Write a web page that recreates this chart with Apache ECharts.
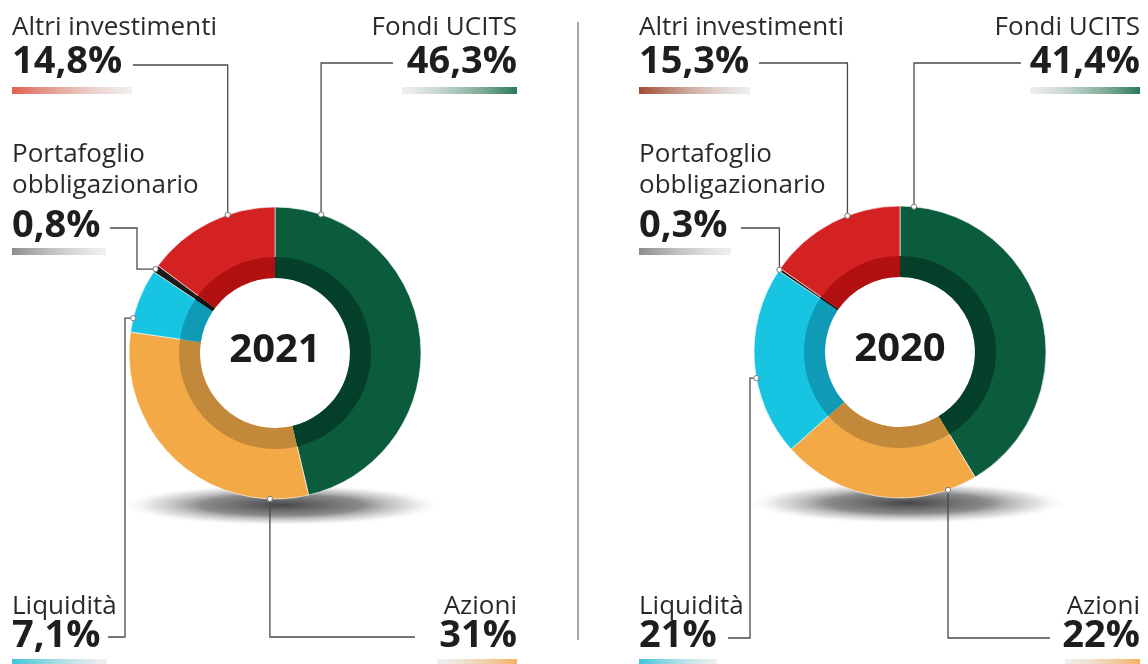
<!DOCTYPE html>
<html>
<head>
<meta charset="utf-8">
<script src="https://cdn.jsdelivr.net/npm/echarts@6/dist/echarts.min.js"></script>
<style>
html,body{margin:0;padding:0;background:#fff;}
#c{width:1148px;height:664px;}
</style>
</head>
<body>
<div id="c"></div>
<script>
// ---- data ----
const categories = ['Fondi UCITS', 'Azioni', 'Liquidità', 'Portafoglio\nobbligazionario', 'Altri investimenti'];
const years = ['2021', '2020'];
const values2021 = [46.3, 31, 7.1, 0.8, 14.8];
const values2020 = [41.4, 22, 21, 0.3, 15.3];

// ---- styles ----
const outerColors = ['#0b5b3d', '#f3a946', '#17c5e2', '#1c1c1c', '#d42121'];
const innerColors = ['#043f29', '#c3893a', '#0f9ab6', '#111111', '#b10f10'];
const barColors2021 = ['#2b7a58', '#f5b060', '#3cc6dc', '#8c8c8c', '#e0604c'];
const barColors2020 = ['#2b7a58', '#f5b060', '#3cc6dc', '#8c8c8c', '#a24a30'];
const FONT = '"Open Sans", "Noto Sans", sans-serif';

function fmt(v) {
  return (Number.isInteger(v) ? String(v) : v.toFixed(1).replace('.', ',')) + '%';
}

// layout (positions only)
const panels = [
  { year: years[0], values: values2021, barColors: barColors2021,
    cx: 275, cy: 353, leftX: 12, rightX: 517, shadowX: 282, shadowY: 505,
    anchors: [18.4, 182, 283.8, 305.1, 341.1],
    vx: [null, null, 125, 137, null],
    lineY: [63, 637, 637, 228, 65],
    endX: [393, 415, 108, 110, 133],
    barW: [115, 80, 95, 94, 120] },
  { year: years[1], values: values2020, barColors: barColors2020,
    cx: 900, cy: 352, leftX: 639, rightX: 1140, shadowX: 908, shadowY: 503,
    anchors: [5.5, 160.8, 259.7, 304.3, 338.9],
    vx: [null, null, 750, null, null],
    lineY: [63, 638, 638, 228, 63],
    endX: [1021, 1050, 728, 741, 759],
    barW: [110, 75, 78, 92, 111] }
];
// slot: side, labelY (center), pctY, barY
const slots = [
  { side: 'right', labelY: 28, pctY: 62, barY: 87 },
  { side: 'right', labelY: 607, pctY: 636, barY: 659 },
  { side: 'left', labelY: 607, pctY: 636, barY: 659 },
  { side: 'left', labelY: 170, pctY: 226, barY: 248 },
  { side: 'left', labelY: 28, pctY: 62, barY: 87 }
];
const R_OUT = 146, R_MID = 96, R_HOLE = 75;

const series = [];
const graphics = [];

panels.forEach(function (p) {
  const data = categories.map(function (c, i) { return { name: c, value: p.values[i] }; });
  series.push({
    type: 'pie', center: [p.cx, p.cy], radius: [R_HOLE, R_OUT], startAngle: 90,
    silent: true, label: { show: false }, labelLine: { show: false }, z: 2,
    itemStyle: { borderColor: 'rgba(255,255,255,0.75)', borderWidth: 0.8 },
    data: data.map(function (d, i) { return { name: d.name, value: d.value, itemStyle: { color: outerColors[i] } }; })
  });
  series.push({
    type: 'pie', center: [p.cx, p.cy], radius: [R_HOLE, R_MID], startAngle: 90,
    silent: true, label: { show: false }, labelLine: { show: false }, z: 3,
    itemStyle: { borderWidth: 0 },
    data: data.map(function (d, i) { return { name: d.name, value: d.value, itemStyle: { color: innerColors[i] } }; })
  });

  // shadow
  graphics.push({
    type: 'circle', x: p.shadowX, y: p.shadowY, scaleY: 0.13, z: -10,
    shape: { cx: 0, cy: 0, r: 162 },
    style: { fill: { type: 'radial', x: 0.5, y: 0.5, r: 0.5, colorStops: [
      { offset: 0, color: 'rgba(60,60,62,0.95)' },
      { offset: 0.5, color: 'rgba(100,100,104,0.75)' },
      { offset: 0.8, color: 'rgba(170,170,175,0.35)' },
      { offset: 1, color: 'rgba(255,255,255,0)' }] } }
  });

  // center year
  graphics.push({
    type: 'text', x: p.cx, y: p.cy - 2, z: 20,
    style: { text: p.year, font: 'bold 40px ' + FONT, fill: '#1b1b1b', align: 'center', verticalAlign: 'middle' }
  });

  categories.forEach(function (c, i) {
    const s = slots[i];
    const a = p.anchors[i] * Math.PI / 180;
    const dx = p.cx + R_OUT * Math.sin(a), dy = p.cy - R_OUT * Math.cos(a);
    const vx = p.vx[i] == null ? dx : p.vx[i];
    const pts = [[dx, dy], [vx, dy], [vx, p.lineY[i]], [p.endX[i], p.lineY[i]]];
    graphics.push({ type: 'polyline', z: 15, shape: { points: pts },
      style: { stroke: '#4a4a4a', lineWidth: 1.3, fill: null } });
    graphics.push({ type: 'circle', z: 16, shape: { cx: dx, cy: dy, r: 2.6 },
      style: { fill: '#ffffff', stroke: '#777', lineWidth: 1 } });

    const tx = s.side === 'left' ? p.leftX : p.rightX;
    graphics.push({ type: 'text', x: tx, y: s.labelY, z: 20,
      style: { text: c, font: '26px ' + FONT, fill: '#2a2a2a', align: s.side, verticalAlign: 'middle', lineHeight: 31 } });
    graphics.push({ type: 'text', x: tx, y: s.pctY, z: 20,
      style: { text: fmt(p.values[i]), font: 'bold 38px ' + FONT, fill: '#1e1e1e', align: s.side, verticalAlign: 'middle' } });

    const col = p.barColors[i];
    const w = p.barW[i];
    const bx = s.side === 'left' ? tx : tx - w;
    const fade = 'rgba(220,222,220,0.45)';
    const stops = s.side === 'left'
      ? [{ offset: 0, color: col }, { offset: 1, color: fade }]
      : [{ offset: 0, color: fade }, { offset: 1, color: col }];
    graphics.push({ type: 'rect', z: 10, shape: { x: bx, y: s.barY, width: w, height: 7 },
      style: { fill: { type: 'linear', x: 0, y: 0, x2: 1, y2: 0, colorStops: stops } } });
  });
});

// divider
graphics.push({ type: 'line', z: 5, shape: { x1: 578, y1: 22, x2: 578, y2: 640 },
  style: { stroke: '#8a8a8a', lineWidth: 1.5 } });

const chart = echarts.init(document.getElementById('c'));
chart.setOption({
  animation: false,
  backgroundColor: '#ffffff',
  series: series,
  graphic: { elements: graphics }
});
</script>
</body>
</html>
